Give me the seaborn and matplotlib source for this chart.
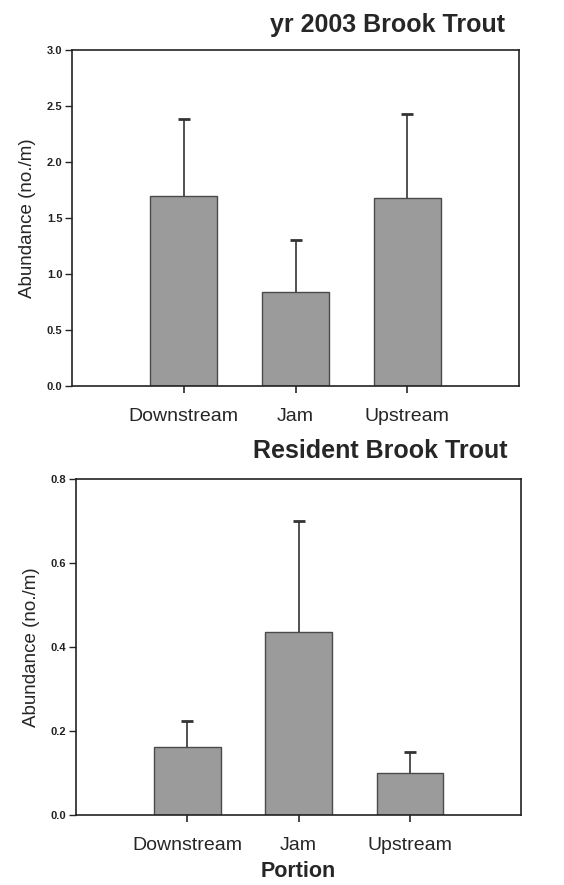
import matplotlib
matplotlib.use("Agg")
import matplotlib.pyplot as plt
import seaborn as sns
import pandas as pd
import numpy as np

portions = ["Downstream", "Jam", "Upstream"]
yoy_mean = [1.70, 0.835, 1.68]
yoy_upper = [2.385, 1.30, 2.43]
res_mean = [0.163, 0.435, 0.099]
res_upper = [0.225, 0.700, 0.149]
yoy_ticks = [0.0, 0.5, 1.0, 1.5, 2.0, 2.5, 3.0]
res_ticks = [0.0, 0.2, 0.4, 0.6, 0.8]

sns.set_style("ticks")
plt.rcParams["font.family"] = ["Liberation Sans", "DejaVu Sans"]

fig = plt.figure(figsize=(5.64, 8.85), dpi=100)
ax1 = fig.add_axes([0.128, 0.564, 0.792, 0.3795])
ax2 = fig.add_axes([0.135, 0.079, 0.789, 0.380])

bar_color = "#9b9b9b"
edge = "#4a4a4a"

def panel(ax, mean, upper, ticks, title, xlabel, tpad):
    df = pd.DataFrame({"Portion": portions, "Abundance": mean})
    sns.barplot(data=df, x="Portion", y="Abundance", ax=ax, color=bar_color,
                edgecolor=edge, linewidth=1.0, width=0.6, errorbar=None,
                saturation=1)
    xs = np.arange(len(portions))
    err = np.array(upper) - np.array(mean)
    ax.errorbar(xs, mean, yerr=[np.zeros(len(mean)), err],
                fmt="none", ecolor="#333333", elinewidth=1.2, capsize=0)
    ax.plot(xs, upper, linestyle="none", marker="_", markersize=8,
            markeredgewidth=2.0, color="#333333")
    ax.set_xlim(-1, 3)
    ax.set_ylim(ticks[0], ticks[-1])
    ax.set_yticks(ticks)
    ax.set_yticklabels([f"{t:.1f}" for t in ticks], fontsize=8, fontweight="bold",
                       color="#222222")
    ax.tick_params(axis="x", labelsize=14, length=5, width=1.2, pad=11)
    ax.tick_params(axis="y", length=5, width=1.0, pad=2)
    ax.set_ylabel("Abundance (no./m)", fontsize=13.5, labelpad=8)
    if xlabel:
        ax.set_xlabel(xlabel, fontsize=15.5, fontweight="bold", labelpad=5)
    else:
        ax.set_xlabel("")
    for s in ax.spines.values():
        s.set_visible(True)
        s.set_linewidth(1.2)
        s.set_color("#222222")
    ax.set_title(title, fontsize=18, fontweight="bold", loc="right", pad=tpad,
                 x=0.97)

panel(ax1, yoy_mean, yoy_upper, yoy_ticks, "yr 2003 Brook Trout", None, 13)
panel(ax2, res_mean, res_upper, res_ticks, "Resident Brook Trout", "Portion", 15)

fig.savefig("out.png", dpi=100)
